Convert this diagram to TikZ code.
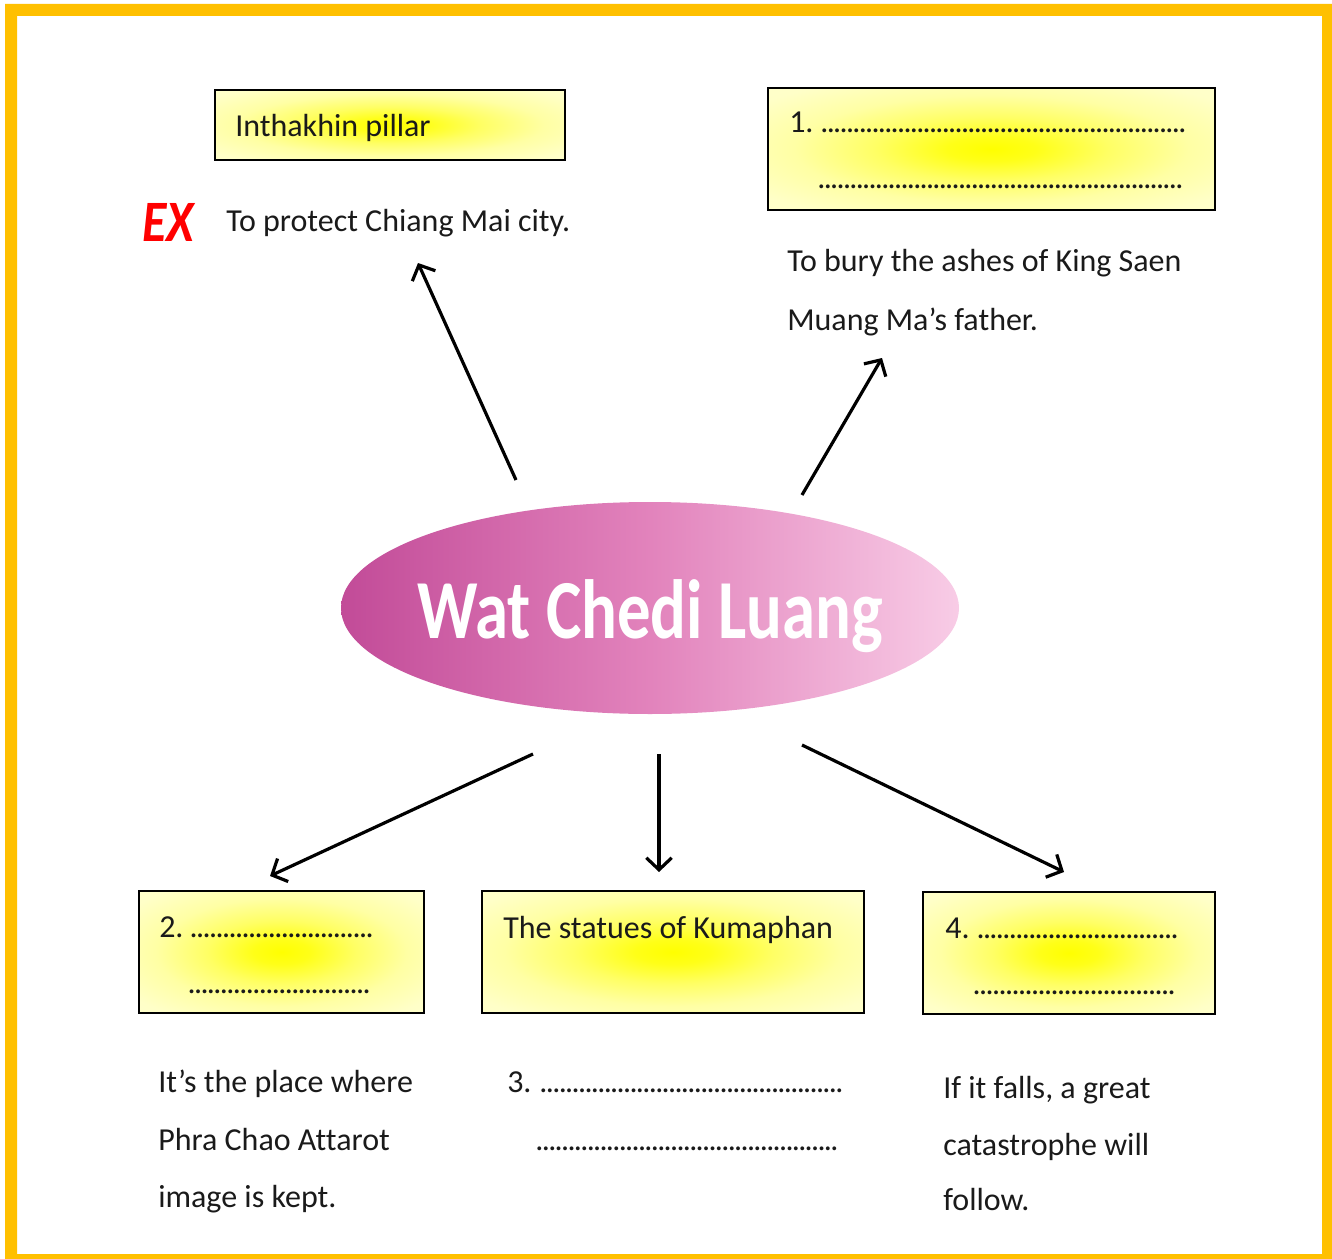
\documentclass[tikz,border=0pt]{standalone}
\usepackage{fontspec}
\setmainfont{Carlito}[Ligatures=NoCommon]
\usepackage{graphicx}
\usetikzlibrary{arrows.meta,shapes.geometric}
\definecolor{bordc}{HTML}{FFC000}
\definecolor{lyel}{HTML}{FFFFC8}
\definecolor{gyel}{HTML}{FFFF00}
\definecolor{pinkL}{HTML}{C24B98}
\definecolor{pinkR}{HTML}{F8CCE6}
\definecolor{pinkM}{HTML}{E283BC}
\definecolor{txtc}{HTML}{1A1A1A}
\pgfdeclareradialshading{glow}{\pgfpoint{0bp}{0bp}}{%
  color(0bp)=(gyel); color(5bp)=(gyel!88!lyel); color(13bp)=(gyel!50!lyel);
  color(22bp)=(gyel!18!lyel); color(32bp)=(lyel); color(50bp)=(lyel!80!white)}
\newlength\pxu \setlength\pxu{0.75pt}
\newcommand\dotrow[1]{\hbox to #1\pxu{\xleaders\hbox to 6.4\pxu{\hss.\hss}\hfill}}
\begin{document}
\begin{tikzpicture}[x=0.75pt, y=-0.75pt,
  ybox/.style={rectangle, draw=black, line width=1.5pt, shading=glow, inner sep=0pt},
  txt/.style={anchor=base west, inner sep=0pt, text=txtc, font=\fontsize{24}{28}\selectfont},
  arr/.style={draw=black, line width=2.4pt, -{Straight Barb[length=9pt,width=19pt]}},
  hub/.style={ellipse, inner sep=0pt, left color=pinkL, right color=pinkR, middle color=pinkM, minimum width=463.5pt, minimum height=159pt}]
\useasboundingbox (0,0) rectangle (1332,1259);
\fill[bordc, even odd rule] (5,4) rectangle (1332,1259) (17,16) rectangle (1322,1254);

% top-left
\node[ybox, minimum width=262.5pt, minimum height=52.5pt] (b0) at (390,125) {};
\node[txt] (t0) at (235,137) {Inthakhin pillar};
\node[anchor=base west, inner sep=0pt, text=red, font=\fontsize{44}{44}\bfseries\itshape\selectfont] (ex) at (142,242) {\scalebox{0.85}[1]{EX}};
\node[txt] (t0b) at (226,232) {To protect Chiang Mai city.};

% top-right
\node[ybox, minimum width=335.25pt, minimum height=91.5pt] (b1) at (991.5,149) {};
\node[txt] (n1) at (789,133) {1.};
\node[txt] (d1a) at (821,133) {\dotrow{365}};
\node[txt] (d1b) at (818,189) {\dotrow{365}};
\node[txt] (t1a) at (787,272) {To bury the ashes of King Saen};
\node[txt] (t1b) at (787,330) {Muang Ma’s father.};

% hub
\node[hub] (hub) at (650,608) {};
\node[anchor=base, inner sep=0pt, text=white, font=\fontsize{63}{63}\bfseries\selectfont] (title) at (650,638) {\scalebox{0.795}[1]{Wat Chedi Luang}};

% bottom boxes
\node[ybox, minimum width=213.75pt, minimum height=91.5pt] (b2) at (281.5,952) {};
\node[txt] (n2) at (159,937) {2.};
\node[txt] (d2a) at (190,937) {\dotrow{183}};
\node[txt] (d2b) at (188,993) {\dotrow{182}};

\node[ybox, minimum width=286.5pt, minimum height=91.5pt] (b3) at (673,952) {};
\node[txt] (t3) at (503,938) {The statues of Kumaphan};

\node[ybox, minimum width=219pt, minimum height=91.5pt] (b4) at (1069,953) {};
\node[txt] (n4) at (945,938) {4.};
\node[txt] (d4a) at (977,938) {\dotrow{201}};
\node[txt] (d4b) at (973,994) {\dotrow{202}};

% bottom texts
\node[txt] (l1) at (158,1092) {It’s the place where};
\node[txt] (l2) at (158,1150) {Phra Chao Attarot};
\node[txt] (l3) at (158,1207) {image is kept.};
\node[txt] (n3) at (507,1092) {3.};
\node[txt] (d3a) at (540,1092) {\dotrow{303}};
\node[txt] (d3b) at (536,1150) {\dotrow{302}};
\node[txt] (r1) at (943,1098) {If it falls, a great};
\node[txt] (r2) at (943,1155) {catastrophe will};
\node[txt] (r3) at (943,1210) {follow.};

% arrows
\coordinate (a1s) at (516,480); \coordinate (a1e) at (418,263);
\coordinate (a2s) at (802,495); \coordinate (a2e) at (882,358);
\coordinate (a3s) at (533,754); \coordinate (a3e) at (270,876);
\coordinate (a4s) at (659,754); \coordinate (a4e) at (659,872);
\coordinate (a5s) at (802,745); \coordinate (a5e) at (1064,872);
\draw[arr] (a1s) -- (a1e);
\draw[arr] (a2s) -- (a2e);
\draw[arr] (a3s) -- (a3e);
\draw[arr] (a4s) -- (a4e);
\draw[arr] (a5s) -- (a5e);
\end{tikzpicture}
\end{document}
